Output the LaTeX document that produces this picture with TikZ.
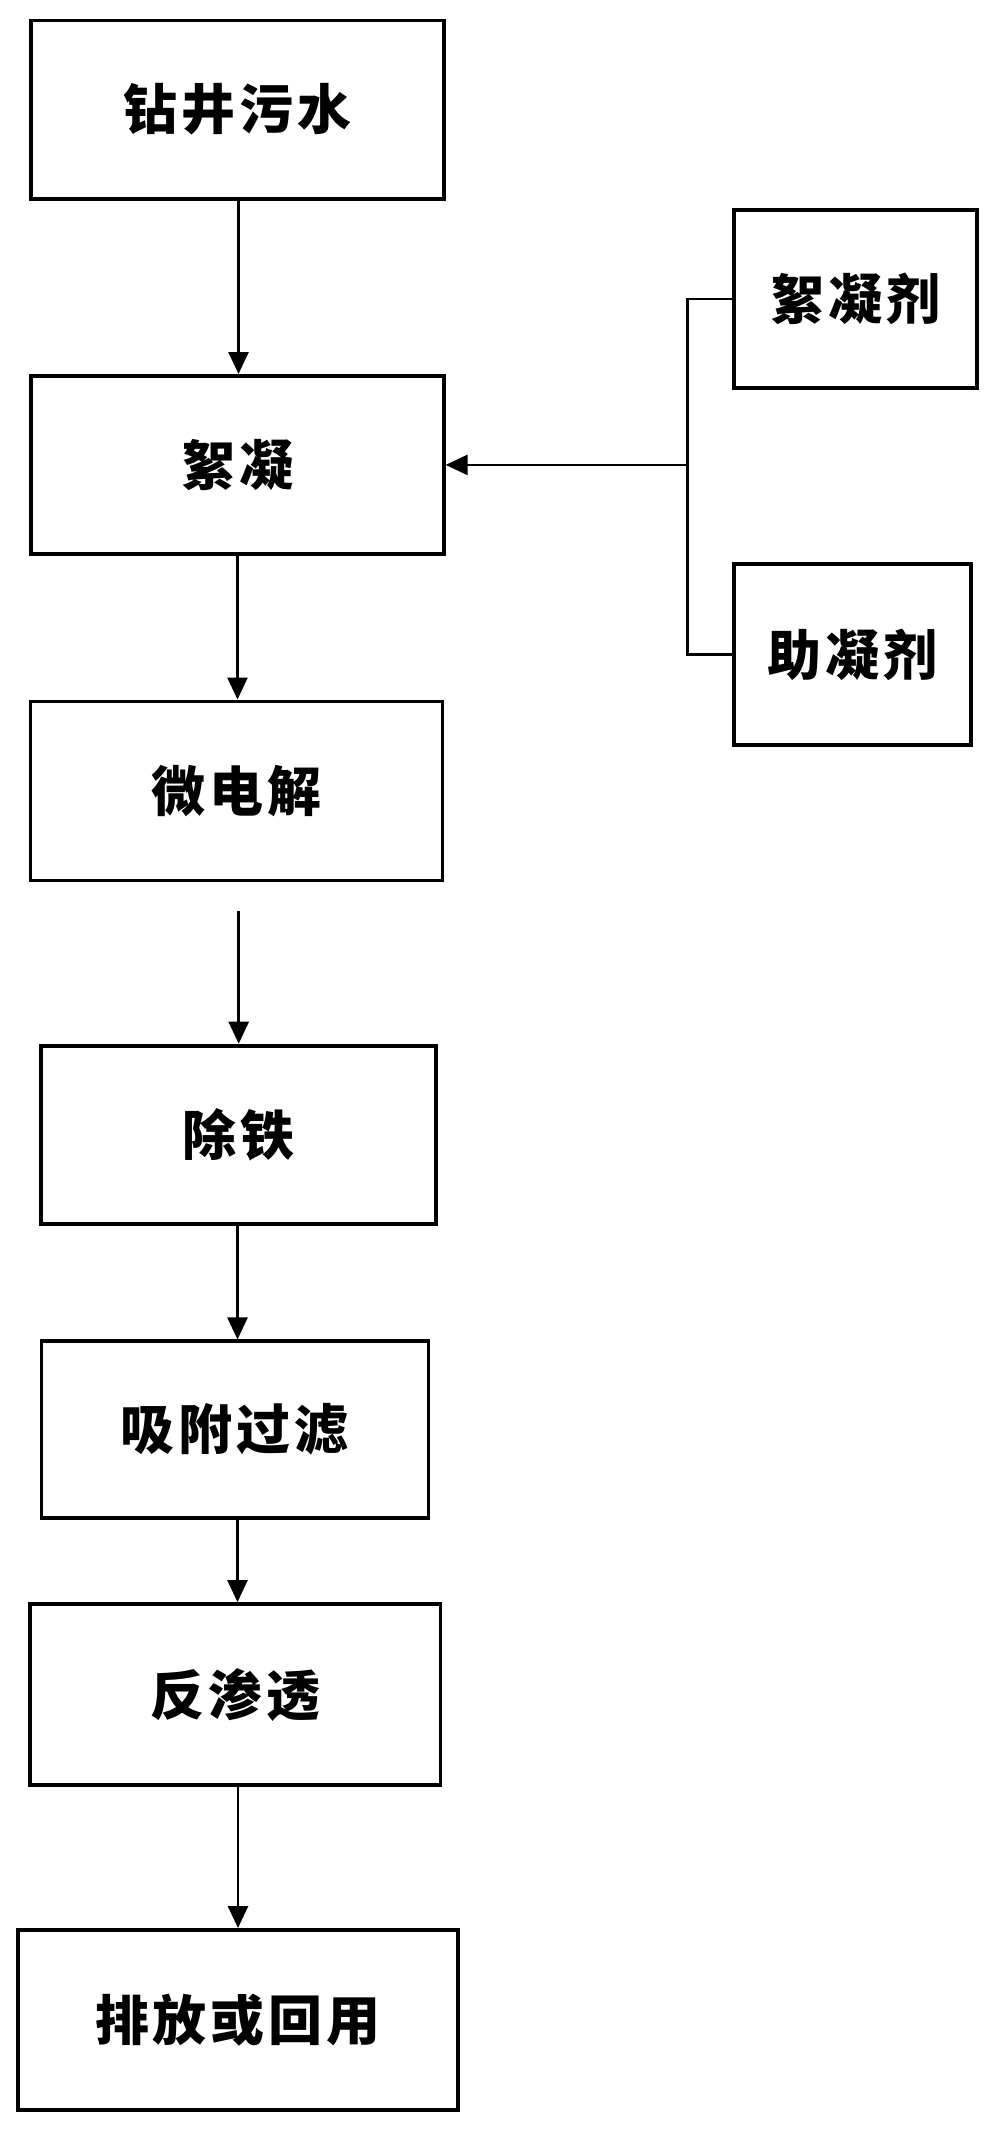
\documentclass[tikz,border=0pt]{standalone}
\usepackage{fontspec}
\setmainfont{Noto Sans CJK SC}
\usetikzlibrary{arrows.meta}
\newcommand\cgap{\hspace{4pt}}
\begin{document}
\begin{tikzpicture}[x=1pt,y=-1pt,
  box/.style={draw=black,line width=3.8pt,rectangle,inner sep=0pt,font=\fontsize{54pt}{56pt}\selectfont\bfseries},
  conn/.style={draw=black,line width=2.6pt},
  arr/.style={conn,-{Triangle[length=22pt,width=20pt]}}]
\useasboundingbox (0,0) rectangle (998,2130);
\node[box,minimum width=413pt,minimum height=178pt] (b1) at (237.2,109.6) {钻\cgap 井\cgap 污\cgap 水};
\node[box,minimum width=413pt,minimum height=178pt] (b2) at (237.2,464.9) {絮\cgap 凝};
\node[box,minimum width=412pt,minimum height=179pt] (b3) at (236.5,790.9) {微\cgap 电\cgap 解};
\node[box,minimum width=395pt,minimum height=178pt] (b4) at (238.7,1134.6) {除\cgap 铁};
\node[box,minimum width=387pt,minimum height=176.5pt] (b5) at (234.9,1429.6) {吸\cgap 附\cgap 过\cgap 滤};
\node[box,minimum width=410.6pt,minimum height=181pt] (b6) at (235.2,1694.5) {反\cgap 渗\cgap 透};
\node[box,minimum width=440.5pt,minimum height=180pt] (b7) at (238,2019.9) {排\cgap 放\cgap 或\cgap 回\cgap 用};
\node[box,minimum width=243pt,minimum height=178pt] (r1) at (855.5,298.9) {絮\cgap 凝\cgap 剂};
\node[box,minimum width=236.7pt,minimum height=181pt] (r2) at (852.4,654.4) {助\cgap 凝\cgap 剂};
\coordinate (a1) at (238.5,198.7);
\coordinate (a2) at (237.5,554);
\coordinate (a3) at (238.7,911);
\coordinate (a4) at (237.5,1223.5);
\coordinate (a5) at (237.5,1517.8);
\coordinate (a6) at (238,1785);
\coordinate (j) at (687.5,464.9);
\draw[arr] (a1) -- (a1 |- b2.north);
\draw[arr] (a2) -- (a2 |- b3.north);
\draw[arr] (a3) -- (a3 |- b4.north);
\draw[arr] (a4) -- (a4 |- b5.north);
\draw[arr] (a5) -- (a5 |- b6.north);
\draw[arr] (a6) -- (a6 |- b7.north);
\draw[conn] (r1.west) -- (r1.west -| j) -- (r2.west -| j) -- (r2.west);
\draw[arr] (j) -- (j -| b2.east);
\end{tikzpicture}
\end{document}
